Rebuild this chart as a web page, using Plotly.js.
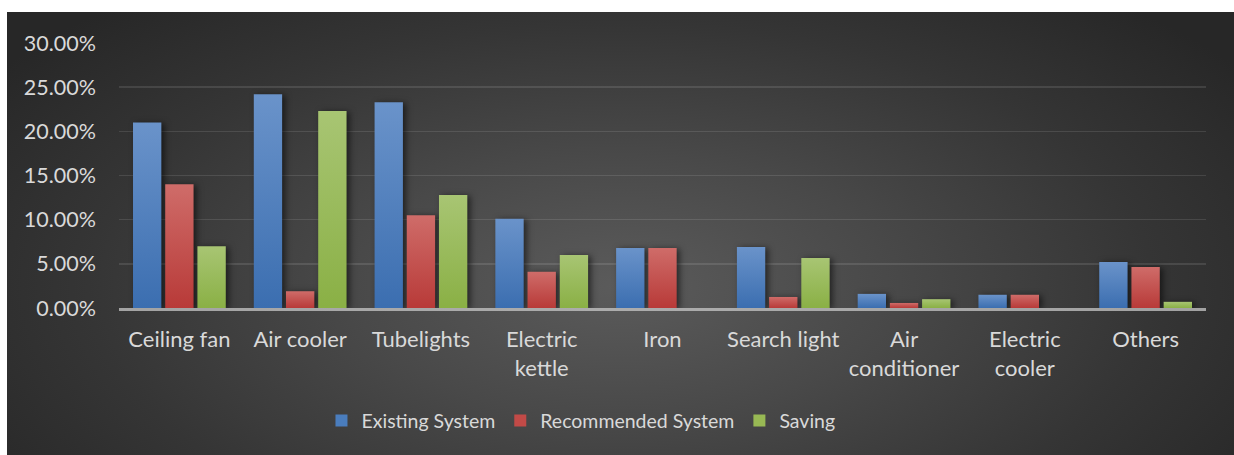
<!DOCTYPE html>
<html>
<head>
<meta charset="utf-8">
<script src="https://cdn.plot.ly/plotly-3.0.1.min.js"></script>
<style>
  html, body { margin: 0; padding: 0; background: #ffffff; width: 1234px; height: 455px; overflow: hidden; }
  #chart {
    position: absolute; left: 7px; top: 12px; width: 1227px; height: 443px;
    background: radial-gradient(ellipse 62% 85% at 50% 62%, #5b5b5b 0%, #494949 35%, #353535 70%, #272727 100%);
  }
  .barlayer .trace path { filter: drop-shadow(3px 1px 3px rgba(0,0,0,0.55)); }
</style>
</head>
<body>
<div id="chart"></div>
<script>
const categories = ["Ceiling fan", "Air cooler", "Tubelights", "Electric<br>kettle", "Iron",
                    "Search light", "Air<br>conditioner", "Electric<br>cooler", "Others"];
const existingSystem    = [0.210, 0.242, 0.233, 0.101, 0.068, 0.069, 0.016, 0.015, 0.052];
const recommendedSystem = [0.140, 0.019, 0.105, 0.041, 0.068, 0.0125, 0.0057, 0.015, 0.0465];
const saving            = [0.070, 0.223, 0.128, 0.060, 0.000, 0.0566, 0.010, 0.000, 0.007];
const seriesNames = ["Existing System", "Recommended System", "Saving"];
const yTickVals = [0, 0.05, 0.10, 0.15, 0.20, 0.25, 0.30];

const colors = ["#4a7dbd", "#c24a47", "#98b954"];
const gradStops = [
  ["#6a93ca", "#3b6eb0"],
  ["#cf6c69", "#b83a38"],
  ["#a8c573", "#8ab045"]
];

const font = "Lato, 'Open Sans', sans-serif";
const txt = "#d9d9d9";

const traces = [existingSystem, recommendedSystem, saving].map((vals, i) => ({
  type: "bar",
  name: seriesNames[i],
  x: categories,
  y: vals,
  marker: { color: colors[i], line: { width: 0 } },
  hoverinfo: "skip"
}));

const layout = {
  width: 1227, height: 443,
  paper_bgcolor: "rgba(0,0,0,0)",
  plot_bgcolor: "rgba(0,0,0,0)",
  margin: { l: 112, r: 28, t: 31, b: 147 },
  barmode: "group",
  bargap: 0.2,
  bargroupgap: 0.12,
  font: { family: font, size: 22, color: txt },
  xaxis: {
    type: "category",
    showgrid: false,
    showline: true, linecolor: "rgba(200,200,200,0.75)", linewidth: 2.5,
    ticks: "", ticklabelstandoff: 10,
    tickfont: { family: font, size: 22, color: txt },
    fixedrange: true
  },
  yaxis: {
    range: [0, 0.30],
    tickvals: yTickVals,
    tickformat: ".2%",
    showgrid: true, gridcolor: "rgba(255,255,255,0.11)", gridwidth: 1.5,
    zeroline: false, showline: false,
    ticks: "", ticklabelstandoff: 22,
    tickfont: { family: font, size: 21.5, color: txt },
    fixedrange: true
  },
  showlegend: true,
  legend: {
    orientation: "h",
    x: 0.425, xanchor: "center",
    y: -0.426, yanchor: "middle",
    font: { family: font, size: 19.5, color: txt },
    bgcolor: "rgba(0,0,0,0)",
    traceorder: "normal"
  }
};

Plotly.newPlot("chart", traces, layout, { displayModeBar: false, staticPlot: true }).then(gd => {
  const svg = gd.querySelector(".main-svg");
  const ns = "http://www.w3.org/2000/svg";
  let defs = svg.querySelector("defs");
  if (!defs) { defs = document.createElementNS(ns, "defs"); svg.insertBefore(defs, svg.firstChild); }
  gradStops.forEach((st, i) => {
    const g = document.createElementNS(ns, "linearGradient");
    g.setAttribute("id", "barGrad" + i);
    g.setAttribute("x1", "0"); g.setAttribute("y1", "0");
    g.setAttribute("x2", "0"); g.setAttribute("y2", "1");
    const s1 = document.createElementNS(ns, "stop");
    s1.setAttribute("offset", "0"); s1.setAttribute("stop-color", st[0]);
    const s2 = document.createElementNS(ns, "stop");
    s2.setAttribute("offset", "1"); s2.setAttribute("stop-color", st[1]);
    g.appendChild(s1); g.appendChild(s2);
    defs.appendChild(g);
  });
  const barTraces = gd.querySelectorAll(".barlayer .trace");
  barTraces.forEach((t, i) => {
    t.querySelectorAll("path").forEach(p => { p.style.fill = "url(#barGrad" + i + ")"; });
  });
});
</script>
</body>
</html>
